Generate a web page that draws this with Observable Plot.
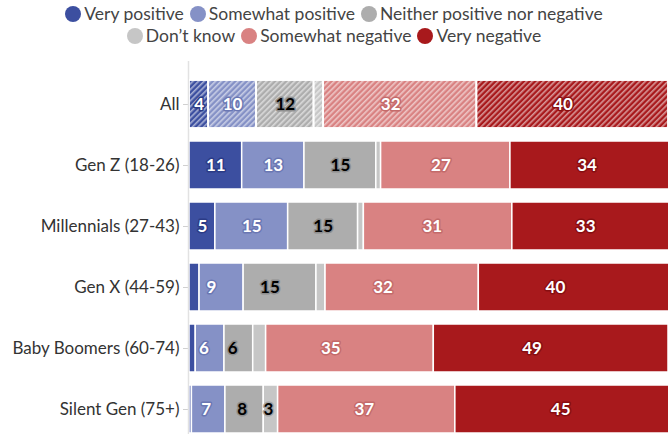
<!DOCTYPE html>
<html>
<head>
<meta charset="utf-8">
<script src="https://cdn.jsdelivr.net/npm/d3@7"></script>
<script src="https://cdn.jsdelivr.net/npm/@observablehq/plot@0.6"></script>
<style>
  html, body { margin: 0; padding: 0; background: #fff; overflow: hidden; }
  body { width: 668px; height: 434px; font-family: Lato, "Open Sans", sans-serif; }
  .legend { height: 58px; box-sizing: border-box; padding-top: 3px; text-align: center; color: #444; font-size: 17.5px; line-height: 22px; }
  .legend .row { white-space: nowrap; }
  .legend .item { display: inline-block; margin: 0 3px; }
  .legend .dot { display: inline-block; width: 16px; height: 16px; border-radius: 50%; vertical-align: -2px; margin-right: 3px; }
  svg { display: block; }
</style>
</head>
<body>
<div id="legend" class="legend"></div>
<div id="chart"></div>
<script>
const groups = ["All", "Gen Z (18-26)", "Millennials (27-43)", "Gen X (44-59)", "Baby Boomers (60-74)", "Silent Gen (75+)"];
const responses = ["Very positive", "Somewhat positive", "Neither positive nor negative", "Don’t know", "Somewhat negative", "Very negative"];
const colors = ["#3c4fa0", "#8591c6", "#adadad", "#c6c6c6", "#d98282", "#a8191c"];
const haloColors = ["#2b3b86", "#6a77b3", "#8f8f8f", "#a5a5a5", "#c46a6a", "#870e11"];
const labelColors = ["white", "white", "black", "black", "white", "white"];

const veryPositive     = [4, 11, 5.4, 2.1, 1.3, 0.5];
const somewhatPositive = [10, 13, 15.2, 9.2, 6, 7];
const neither          = [12, 15, 14.6, 15.2, 6, 8];
const dontKnow         = [2, 1, 1.2, 1.9, 2.7, 3];
const somewhatNegative = [32, 27, 31, 32, 35, 37];
const veryNegative     = [40, 34, 33, 40, 49, 45];

const series = [veryPositive, somewhatPositive, neither, dontKnow, somewhatNegative, veryNegative];
const data = [];
groups.forEach((g, gi) => {
  responses.forEach((r, ri) => {
    data.push({group: g, response: r, value: series[ri][gi], ri});
  });
});

// legend
const legend = document.getElementById("legend");
const rows = [[0, 1, 2], [3, 4, 5]];
rows.forEach(row => {
  const div = document.createElement("div");
  div.className = "row";
  row.forEach(i => {
    const span = document.createElement("span");
    span.className = "item";
    span.innerHTML = `<span class="dot" style="background:${colors[i]}"></span>${responses[i]}`;
    div.appendChild(span);
  });
  legend.appendChild(div);
});

const stackOpts = {x: "value", y: "group", z: "response", order: responses};

const plot = Plot.plot({
  width: 668,
  height: 376,
  marginLeft: 189,
  marginRight: 0,
  marginTop: 21,
  marginBottom: 0,
  style: {fontFamily: "Lato, 'Open Sans', sans-serif", fontSize: "17px", color: "#333", background: "white"},
  x: {domain: [0, 100], axis: null},
  y: {domain: groups, paddingInner: 0.218, paddingOuter: 0, label: null},
  color: {domain: responses, range: colors},
  marks: [
    Plot.axisY({tickSize: 6, tickPadding: 4, stroke: "#d0d0d0", color: "#333", fontSize: 17, label: null}),
    Plot.ruleX([0], {stroke: "#e2e2e2", strokeWidth: 1.5, insetTop: -18, dx: -1}),
    Plot.barX(data, Plot.stackX({...stackOpts, fill: "response", stroke: "white", strokeWidth: 1.5, clip: true})),
    Plot.barX(data.filter(d => d.group === "All"), Plot.stackX({...stackOpts, fill: "url(#hatch)", stroke: "white", strokeWidth: 1.5, clip: true})),
    Plot.textX(data.filter(d => d.value >= 3), Plot.stackX({
      ...stackOpts,
      text: d => Math.round(d.value),
      fill: d => labelColors[d.ri],
      stroke: d => haloColors[d.ri],
      strokeWidth: 3,
      fontWeight: "bold",
      fontSize: 17
    }))
  ]
});

const svg = d3.select(plot);
const defs = svg.insert("defs", ":first-child");
const pat = defs.append("pattern")
  .attr("id", "hatch")
  .attr("patternUnits", "userSpaceOnUse")
  .attr("width", 4)
  .attr("height", 4)
  .attr("patternTransform", "rotate(45)");
pat.append("rect").attr("x", 0).attr("y", 0).attr("width", 1.6).attr("height", 4).attr("fill", "rgba(255,255,255,0.55)");

document.getElementById("chart").appendChild(plot);
</script>
</body>
</html>
